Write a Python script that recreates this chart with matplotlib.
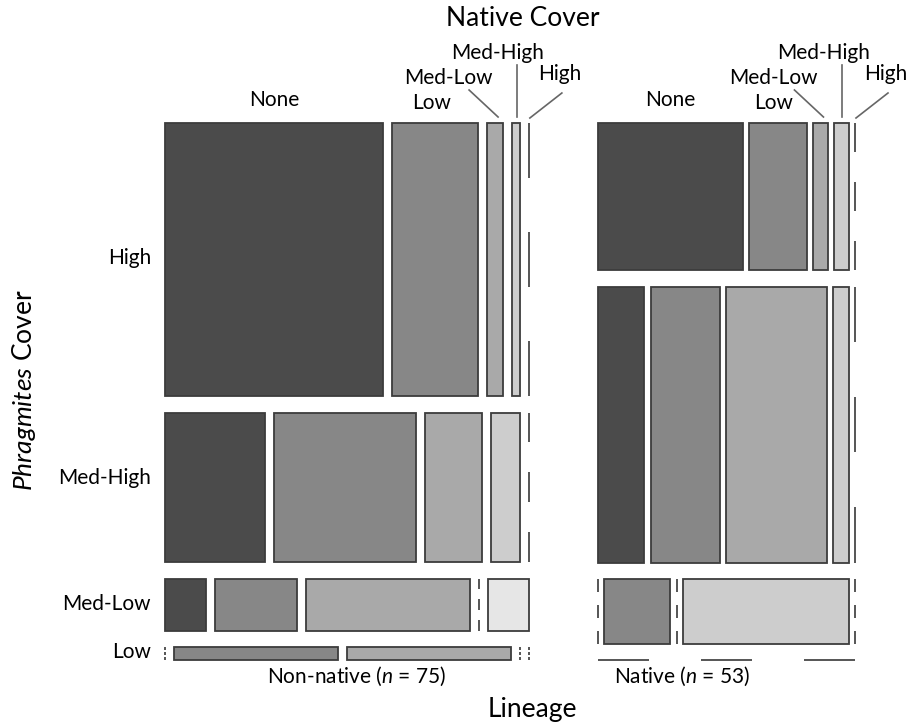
"""Mosaic plot of Phragmites cover vs native cover by lineage."""

import matplotlib.pyplot as plt
from matplotlib.patches import Rectangle

plt.rcParams['font.family'] = ['Lato', 'DejaVu Sans']
plt.rcParams['mathtext.fontset'] = 'custom'
plt.rcParams['mathtext.rm'] = 'Lato'
plt.rcParams['mathtext.it'] = 'Lato:italic'

lineages = ['Non-native', 'Native']
lineage_n = [75, 53]
phrag_levels = ['High', 'Med-High', 'Med-Low', 'Low']
native_levels = ['None', 'Low', 'Med-Low', 'Med-High', 'High']

# rows = Phragmites cover, columns = native cover
counts_nonnative = [[28, 11, 2, 1, 0],
                    [7, 10, 4, 2, 0],
                    [1, 2, 4, 0, 1],
                    [0, 1, 1, 0, 0]]
counts_native = [[10, 4, 1, 1, 0],
                 [6, 9, 13, 2, 0],
                 [0, 2, 0, 5, 0],
                 [0, 0, 0, 0, 0]]

colors = ['#4b4b4b', '#878787', '#a9a9a9', '#cdcdcd', '#e6e6e6']
edge = '#3c3c3c'
dash_col = '#555555'

# layout in pixel units
X0, TOTAL_W, LIN_GAP = 165, 621, 69
Y0, TOTAL_H, VGAP = 123, 537, 16.5
HGAP_FRAC = 0.025


def dashed(ax, x1, y1, x2, y2):
    # zero cell: three dashes splitting the length in five parts
    for k in (0, 2, 4):
        a, b = k / 5, (k + 1) / 5
        ax.plot([x1 + (x2 - x1) * a, x1 + (x2 - x1) * b],
                [y1 + (y2 - y1) * a, y1 + (y2 - y1) * b],
                color=dash_col, lw=1.4, solid_capstyle='butt')


def draw_panel(ax, x0, width, table):
    n = sum(sum(r) for r in table)
    avail_h = TOTAL_H - VGAP * (len(table) - 1)
    hgap = HGAP_FRAC * width
    avail_w = width - hgap * (len(native_levels) - 1)
    y = Y0
    rows = []
    top_cells = []
    for i, row in enumerate(table):
        rt = sum(row)
        h = rt / n * avail_h
        rows.append((y, h))
        if rt == 0:
            dashed(ax, x0, y, x0 + width, y)
            y += VGAP
            continue
        x = x0
        for j, c in enumerate(row):
            w = c / rt * avail_w
            if c > 0:
                ax.add_patch(Rectangle((x, y), w, h, facecolor=colors[j],
                                       edgecolor=edge, lw=1.3))
            else:
                dashed(ax, x, y, x, y + h)
            if i == 0:
                top_cells.append(x + w / 2)
            x += w + hgap
        y += h + VGAP
    return rows, top_cells


fig = plt.figure(figsize=(9.07, 7.23), dpi=100)
ax = fig.add_axes([0, 0, 1, 1])
ax.set_xlim(0, 907)
ax.set_ylim(723, 0)
ax.axis('off')

total_n = sum(lineage_n)
avail = TOTAL_W
x = X0
panels = []
for name, n, table in zip(lineages, lineage_n, [counts_nonnative, counts_native]):
    w = n / total_n * avail
    rows, tops = draw_panel(ax, x, w, table)
    panels.append((x, w, rows, tops))
    x += w + LIN_GAP

fs = 15
# column labels over the top row of each panel
for px, pw, rows, tops in panels:
    ax.text(tops[0], 100, native_levels[0], ha='center', va='center', fontsize=fs)
    ax.text(tops[1] - 4, 103, native_levels[1], ha='center', va='center', fontsize=fs)
    cx = tops[2]
    ax.text(cx - 47, 78, native_levels[2], ha='center', va='center', fontsize=fs)
    ax.plot([cx - 26, cx + 3], [90, 117], color='#666666', lw=1.2)
    cx = tops[3]
    ax.text(cx - 18, 53, native_levels[3], ha='center', va='center', fontsize=fs)
    ax.plot([cx + 1, cx + 1], [65, 117], color='#666666', lw=1.2)
    cx = tops[4]
    ax.text(cx + 31, 74, native_levels[4], ha='center', va='center', fontsize=fs)
    ax.plot([cx + 33, cx + 1], [93, 118], color='#666666', lw=1.2)

# row labels from the non-native panel (small nudges as in the original)
label_nudge = [-2, -9, 0, -1]
for lab, (ry, rh), dy in zip(phrag_levels, panels[0][2], label_nudge):
    ax.text(151, ry + rh / 2 + dy, lab, ha='right', va='center', fontsize=fs)

ax.text(357, 676, r'Non-native ($\it{n}$ = 75)', ha='center', va='center', fontsize=fs)
ax.text(682, 676, r'Native ($\it{n}$ = 53)', ha='center', va='center', fontsize=fs)

ax.text(523, 19, 'Native Cover', ha='center', va='center', fontsize=19)
ax.text(532, 709, 'Lineage', ha='center', va='center', fontsize=19)
ax.text(24, 390, r'$\it{Phragmites}$ Cover', ha='center', va='center',
        rotation=90, fontsize=19)

fig.savefig('out.png', dpi=100)
